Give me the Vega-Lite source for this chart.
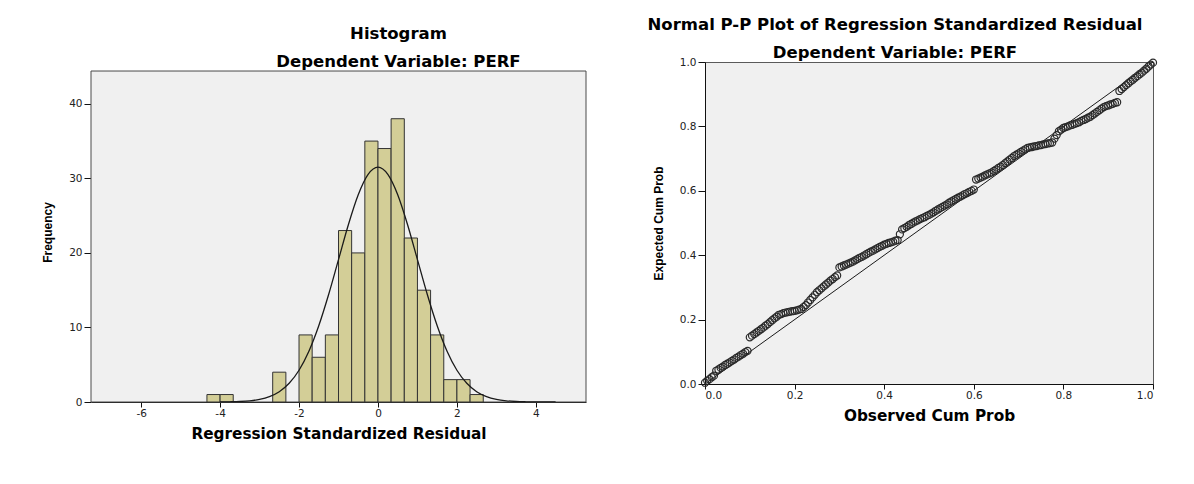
{
  "$schema": "https://vega.github.io/schema/vega-lite/v6.json",
  "background": "white",
  "padding": {"left": 41, "top": 16, "right": 0, "bottom": 0},
  "spacing": 60,
  "config": {
    "view": {"fill": "#F0F0F0", "stroke": "#5A5A5A", "strokeWidth": 1},
    "axis": {"grid": false, "domainColor": "#111", "tickColor": "#111", "labelColor": "#222", "labelFont": "DejaVu Sans", "labelFontSize": 10.5, "titleColor": "#000", "titleFontWeight": "bold"},
    "axisX": {"tickSize": 5, "labelPadding": 1, "titleFont": "DejaVu Sans", "titleFontSize": 15.3, "titlePadding": 8},
    "axisY": {"tickSize": 7, "labelPadding": 2, "titleFont": "Liberation Sans", "titleFontSize": 12, "titlePadding": 14},
    "title": {"font": "DejaVu Sans", "fontSize": 16.5, "fontWeight": "bold", "color": "#000", "subtitleFont": "DejaVu Sans", "subtitleFontSize": 16.5, "subtitleFontWeight": "bold", "subtitleColor": "#000", "subtitlePadding": 11.5, "anchor": "middle"}
  },
  "datasets": {
    "frame": [{"x0": -7.27, "x1": 5.27, "y0": 0, "y1": 44.4}],
    "hist": [
      {"lo": -4.333, "hi": -4.0, "count": 1},
      {"lo": -4.0, "hi": -3.667, "count": 1},
      {"lo": -2.667, "hi": -2.333, "count": 4},
      {"lo": -2.0, "hi": -1.667, "count": 9},
      {"lo": -1.667, "hi": -1.333, "count": 6},
      {"lo": -1.333, "hi": -1.0, "count": 9},
      {"lo": -1.0, "hi": -0.667, "count": 23},
      {"lo": -0.667, "hi": -0.333, "count": 20},
      {"lo": -0.333, "hi": 0.0, "count": 35},
      {"lo": 0.0, "hi": 0.333, "count": 34},
      {"lo": 0.333, "hi": 0.667, "count": 38},
      {"lo": 0.667, "hi": 1.0, "count": 22},
      {"lo": 1.0, "hi": 1.333, "count": 15},
      {"lo": 1.333, "hi": 1.667, "count": 9},
      {"lo": 1.667, "hi": 2.0, "count": 3},
      {"lo": 2.0, "hi": 2.333, "count": 3},
      {"lo": 2.333, "hi": 2.667, "count": 1}
    ],
    "curve": [
      {"x": -4.0, "y": 0.01}, {"x": -3.75, "y": 0.03}, {"x": -3.5, "y": 0.07}, {"x": -3.25, "y": 0.16},
      {"x": -3.0, "y": 0.35}, {"x": -2.75, "y": 0.72}, {"x": -2.5, "y": 1.38}, {"x": -2.25, "y": 2.51},
      {"x": -2.0, "y": 4.26}, {"x": -1.75, "y": 6.81}, {"x": -1.5, "y": 10.23}, {"x": -1.25, "y": 14.42},
      {"x": -1.0, "y": 19.1}, {"x": -0.75, "y": 23.78}, {"x": -0.5, "y": 27.8}, {"x": -0.25, "y": 30.53},
      {"x": 0.0, "y": 31.5}, {"x": 0.25, "y": 30.53}, {"x": 0.5, "y": 27.8}, {"x": 0.75, "y": 23.78},
      {"x": 1.0, "y": 19.1}, {"x": 1.25, "y": 14.42}, {"x": 1.5, "y": 10.23}, {"x": 1.75, "y": 6.81},
      {"x": 2.0, "y": 4.26}, {"x": 2.25, "y": 2.51}, {"x": 2.5, "y": 1.38}, {"x": 2.75, "y": 0.72},
      {"x": 3.0, "y": 0.35}, {"x": 3.25, "y": 0.16}, {"x": 3.5, "y": 0.07}, {"x": 3.75, "y": 0.03},
      {"x": 4.0, "y": 0.01}, {"x": 4.5, "y": 0.0}
    ],
    "ref": [{"o": 0, "e": 0}, {"o": 1, "e": 1}],
    "pp": [
      {"o":0.000,"e":0.004},{"o":0.005,"e":0.010},{"o":0.010,"e":0.015},{"o":0.015,"e":0.021},{"o":0.020,"e":0.026},
      {"o":0.025,"e":0.041},{"o":0.030,"e":0.045},{"o":0.035,"e":0.050},{"o":0.040,"e":0.054},{"o":0.045,"e":0.059},
      {"o":0.050,"e":0.063},{"o":0.055,"e":0.067},{"o":0.060,"e":0.072},{"o":0.065,"e":0.076},{"o":0.070,"e":0.081},
      {"o":0.075,"e":0.085},{"o":0.080,"e":0.090},{"o":0.085,"e":0.094},{"o":0.090,"e":0.099},{"o":0.095,"e":0.103},
      {"o":0.100,"e":0.145},{"o":0.105,"e":0.150},{"o":0.110,"e":0.155},{"o":0.115,"e":0.160},{"o":0.120,"e":0.165},
      {"o":0.125,"e":0.170},{"o":0.130,"e":0.175},{"o":0.135,"e":0.181},{"o":0.140,"e":0.186},{"o":0.145,"e":0.192},
      {"o":0.150,"e":0.198},{"o":0.155,"e":0.204},{"o":0.160,"e":0.209},{"o":0.165,"e":0.215},{"o":0.170,"e":0.217},
      {"o":0.175,"e":0.220},{"o":0.180,"e":0.222},{"o":0.185,"e":0.223},{"o":0.190,"e":0.225},{"o":0.195,"e":0.226},
      {"o":0.200,"e":0.227},{"o":0.205,"e":0.229},{"o":0.210,"e":0.231},{"o":0.215,"e":0.233},{"o":0.220,"e":0.239},
      {"o":0.225,"e":0.245},{"o":0.230,"e":0.253},{"o":0.235,"e":0.261},{"o":0.240,"e":0.269},{"o":0.245,"e":0.277},
      {"o":0.250,"e":0.285},{"o":0.255,"e":0.291},{"o":0.260,"e":0.297},{"o":0.265,"e":0.303},{"o":0.270,"e":0.309},
      {"o":0.275,"e":0.315},{"o":0.280,"e":0.321},{"o":0.285,"e":0.326},{"o":0.290,"e":0.332},{"o":0.295,"e":0.337},
      {"o":0.300,"e":0.362},{"o":0.305,"e":0.365},{"o":0.310,"e":0.368},{"o":0.315,"e":0.371},{"o":0.320,"e":0.374},
      {"o":0.325,"e":0.377},{"o":0.330,"e":0.380},{"o":0.335,"e":0.384},{"o":0.340,"e":0.388},{"o":0.345,"e":0.392},
      {"o":0.350,"e":0.395},{"o":0.355,"e":0.399},{"o":0.360,"e":0.403},{"o":0.365,"e":0.407},{"o":0.370,"e":0.411},
      {"o":0.375,"e":0.414},{"o":0.380,"e":0.418},{"o":0.385,"e":0.422},{"o":0.390,"e":0.426},{"o":0.395,"e":0.429},
      {"o":0.400,"e":0.433},{"o":0.405,"e":0.435},{"o":0.410,"e":0.438},{"o":0.415,"e":0.440},{"o":0.420,"e":0.442},
      {"o":0.425,"e":0.445},{"o":0.430,"e":0.447},{"o":0.435,"e":0.465},{"o":0.440,"e":0.480},{"o":0.445,"e":0.484},
      {"o":0.450,"e":0.488},{"o":0.455,"e":0.493},{"o":0.460,"e":0.497},{"o":0.465,"e":0.501},{"o":0.470,"e":0.505},
      {"o":0.475,"e":0.508},{"o":0.480,"e":0.512},{"o":0.485,"e":0.515},{"o":0.490,"e":0.518},{"o":0.495,"e":0.522},
      {"o":0.500,"e":0.525},{"o":0.505,"e":0.529},{"o":0.510,"e":0.533},{"o":0.515,"e":0.538},{"o":0.520,"e":0.542},
      {"o":0.525,"e":0.546},{"o":0.530,"e":0.550},{"o":0.535,"e":0.554},{"o":0.540,"e":0.558},{"o":0.545,"e":0.563},
      {"o":0.550,"e":0.567},{"o":0.555,"e":0.571},{"o":0.560,"e":0.575},{"o":0.565,"e":0.579},{"o":0.570,"e":0.582},
      {"o":0.575,"e":0.586},{"o":0.580,"e":0.590},{"o":0.585,"e":0.593},{"o":0.590,"e":0.597},{"o":0.595,"e":0.600},
      {"o":0.600,"e":0.604},{"o":0.605,"e":0.635},{"o":0.610,"e":0.638},{"o":0.615,"e":0.641},{"o":0.620,"e":0.644},
      {"o":0.625,"e":0.648},{"o":0.630,"e":0.651},{"o":0.635,"e":0.654},{"o":0.640,"e":0.657},{"o":0.645,"e":0.662},
      {"o":0.650,"e":0.666},{"o":0.655,"e":0.671},{"o":0.660,"e":0.675},{"o":0.665,"e":0.680},{"o":0.670,"e":0.686},
      {"o":0.675,"e":0.691},{"o":0.680,"e":0.697},{"o":0.685,"e":0.702},{"o":0.690,"e":0.708},{"o":0.695,"e":0.712},
      {"o":0.700,"e":0.716},{"o":0.705,"e":0.721},{"o":0.710,"e":0.725},{"o":0.715,"e":0.729},{"o":0.720,"e":0.733},
      {"o":0.725,"e":0.735},{"o":0.730,"e":0.736},{"o":0.735,"e":0.738},{"o":0.740,"e":0.739},{"o":0.745,"e":0.741},
      {"o":0.750,"e":0.742},{"o":0.755,"e":0.744},{"o":0.760,"e":0.745},{"o":0.765,"e":0.747},{"o":0.770,"e":0.748},
      {"o":0.775,"e":0.750},{"o":0.780,"e":0.762},{"o":0.785,"e":0.773},{"o":0.790,"e":0.785},{"o":0.795,"e":0.790},
      {"o":0.800,"e":0.795},{"o":0.805,"e":0.798},{"o":0.810,"e":0.800},{"o":0.815,"e":0.803},{"o":0.820,"e":0.805},
      {"o":0.825,"e":0.808},{"o":0.830,"e":0.810},{"o":0.835,"e":0.813},{"o":0.840,"e":0.817},{"o":0.845,"e":0.820},
      {"o":0.850,"e":0.823},{"o":0.855,"e":0.827},{"o":0.860,"e":0.830},{"o":0.865,"e":0.835},{"o":0.870,"e":0.840},
      {"o":0.875,"e":0.845},{"o":0.880,"e":0.850},{"o":0.885,"e":0.855},{"o":0.890,"e":0.860},{"o":0.895,"e":0.863},
      {"o":0.900,"e":0.865},{"o":0.905,"e":0.868},{"o":0.910,"e":0.870},{"o":0.915,"e":0.873},{"o":0.920,"e":0.875},
      {"o":0.925,"e":0.910},{"o":0.930,"e":0.916},{"o":0.935,"e":0.922},{"o":0.940,"e":0.928},{"o":0.945,"e":0.934},
      {"o":0.950,"e":0.940},{"o":0.955,"e":0.945},{"o":0.960,"e":0.951},{"o":0.965,"e":0.956},{"o":0.970,"e":0.962},
      {"o":0.975,"e":0.967},{"o":0.980,"e":0.973},{"o":0.985,"e":0.979},{"o":0.990,"e":0.986},{"o":0.995,"e":0.992},
      {"o":1.000,"e":0.998}
    ]
  },
  "hconcat": [
    {
      "width": 495,
      "height": 340,
      "view": {"fill": null, "stroke": null},
      "title": {"text": "Histogram", "subtitle": "Dependent Variable: PERF", "dx": 60, "offset": -8},
      "layer": [
        {
          "data": {"name": "frame"},
          "mark": {"type": "rect", "fill": "#F0F0F0", "stroke": "#4A4A4A", "strokeWidth": 1},
          "encoding": {
            "x": {"field": "x0", "type": "quantitative", "scale": {"domain": [-7.27, 5.27], "nice": false, "zero": false},
                  "axis": {"values": [-6, -4, -2, 0, 2, 4], "title": "Regression Standardized Residual", "labelExpr": "datum.value < 0 ? '-' + abs(datum.value) : '' + datum.value"}},
            "x2": {"field": "x1"},
            "y": {"field": "y0", "type": "quantitative", "scale": {"domain": [0, 45.61], "nice": false},
                  "axis": {"values": [0, 10, 20, 30, 40], "title": "Frequency", "domain": false}},
            "y2": {"field": "y1"}
          }
        },
        {
          "data": {"name": "hist"},
          "mark": {"type": "bar", "fill": "#D3CE97", "stroke": "#333", "strokeWidth": 1},
          "encoding": {
            "x": {"field": "lo", "type": "quantitative"},
            "x2": {"field": "hi"},
            "y": {"field": "count", "type": "quantitative"},
            "y2": {"datum": 0}
          }
        },
        {
          "data": {"name": "curve"},
          "mark": {"type": "line", "color": "#1a1a1a", "strokeWidth": 1.3, "interpolate": "monotone", "clip": true},
          "encoding": {
            "x": {"field": "x", "type": "quantitative"},
            "y": {"field": "y", "type": "quantitative"}
          }
        }
      ]
    },
    {
      "width": 448,
      "height": 322,
      "title": {"text": "Normal P-P Plot of Regression Standardized Residual", "subtitle": "Dependent Variable: PERF", "dx": -34, "offset": -5},
      "layer": [
        {
          "data": {"name": "ref"},
          "mark": {"type": "line", "color": "#1a1a1a", "strokeWidth": 1},
          "encoding": {
            "x": {"field": "o", "type": "quantitative", "scale": {"domain": [0, 1], "nice": false},
                  "axis": {"values": [0, 0.2, 0.4, 0.6, 0.8, 1], "format": ".1f", "title": "Observed Cum Prob"}},
            "y": {"field": "e", "type": "quantitative", "scale": {"domain": [0, 1], "nice": false},
                  "axis": {"values": [0, 0.2, 0.4, 0.6, 0.8, 1], "format": ".1f", "title": "Expected Cum Prob"}}
          }
        },
        {
          "data": {"name": "pp"},
          "mark": {"type": "point", "shape": "circle", "filled": false, "stroke": "#2a2a2a", "strokeWidth": 1.2, "size": 50, "opacity": 1, "clip": false},
          "encoding": {
            "x": {"field": "o", "type": "quantitative"},
            "y": {"field": "e", "type": "quantitative"}
          }
        }
      ]
    }
  ]
}
